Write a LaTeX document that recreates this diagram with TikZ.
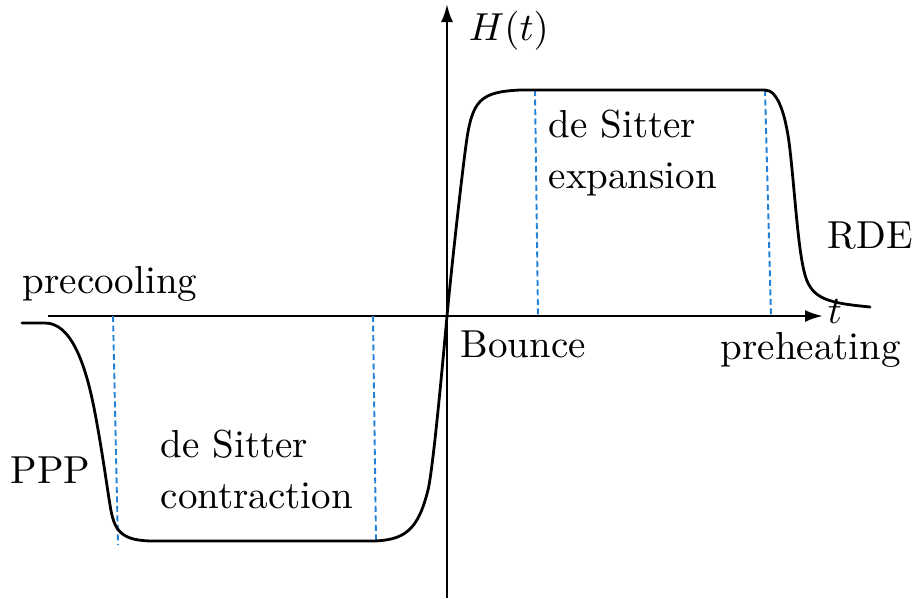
\documentclass[tikz,border=0pt]{standalone}
\usetikzlibrary{arrows.meta}
\definecolor{dashblue}{RGB}{35,130,215}
\begin{document}
\begin{tikzpicture}[x=1pt,y=-1pt,
  lbl/.style={inner sep=0pt,anchor=base west,scale=3.9},
  axis/.style={line width=2.6pt,-{Latex[length=18pt,width=12pt]}},
  curve/.style={line width=2.8pt,line join=round,line cap=round},
  phase/.style={draw=dashblue,line width=1.9pt,dash pattern=on 6pt off 3.5pt}]
\useasboundingbox (0,0) rectangle (914,598);
% axes
\coordinate (tL) at (48,316);
\coordinate (tR) at (823,316);
\coordinate (hB) at (447,598);
\coordinate (hT) at (447,4);
\draw[axis] (tL) -- (tR);
\draw[axis] (hB) -- (hT);
% phase boundaries
\coordinate (d1a) at (113,316); \coordinate (d1b) at (118,545);
\coordinate (d2a) at (373,316); \coordinate (d2b) at (376,541);
\coordinate (d3a) at (535,90);  \coordinate (d3b) at (538,316);
\coordinate (d4a) at (765,90);  \coordinate (d4b) at (771,316);
\draw[phase] (d1a) -- (d1b);
\draw[phase] (d2a) -- (d2b);
\draw[phase] (d3a) -- (d3b);
\draw[phase] (d4a) -- (d4b);
% Hubble parameter
\draw[curve] (22,323) -- (45,323)
  .. controls (70,323) and (85,360) .. (95,413)
  .. controls (102,450) and (106,480) .. (110,505)
  .. controls (114,530) and (120,540) .. (150,541)
  -- (370,541)
  .. controls (405,541) and (418,530) .. (428,490)
  .. controls (433,470) and (443,360) .. (447,316)
  .. controls (450,283) and (460,190) .. (466,145)
  .. controls (472,100) and (480,92) .. (520,90)
  -- (765,90)
  .. controls (778,90) and (786,115) .. (790,150)
  .. controls (795,194) and (798,250) .. (805,275)
  .. controls (812,300) and (830,303) .. (870,307);
% labels
\node[lbl] (Hl) at (468,40) {$H(t)$};
\node[lbl] (tl) at (827,323) {$t$};
\node[lbl] (pre) at (22,293) {precooling};
\node[lbl] (ppp) at (10,483) {PPP};
\node[lbl] (dsc1) at (160,457) {de Sitter};
\node[lbl] (dsc2) at (160,508) {contraction};
\node[lbl] (bnc) at (460,357) {Bounce};
\node[lbl] (dse1) at (548,137) {de Sitter};
\node[lbl] (dse2) at (548,188) {expansion};
\node[lbl] (rde) at (827,248) {RDE};
\node[lbl] (preh) at (720,359) {preheating};
\end{tikzpicture}
\end{document}
